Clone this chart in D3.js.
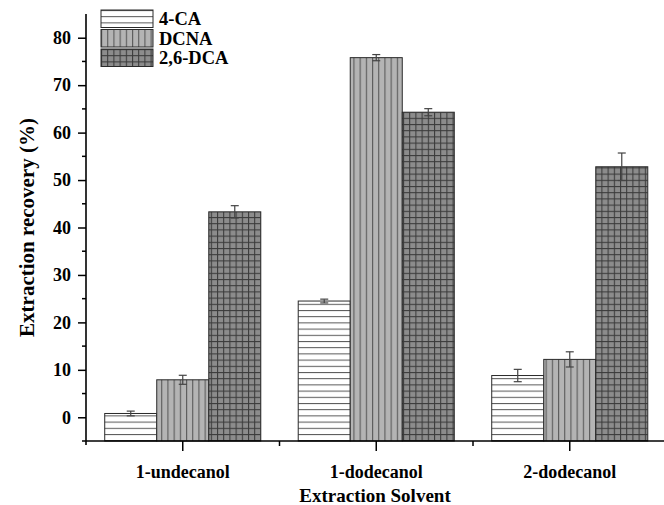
<!DOCTYPE html>
<html>
<head>
<meta charset="utf-8">
<script src="https://cdn.jsdelivr.net/npm/d3@7/dist/d3.min.js"></script>
<style>
  html, body { margin: 0; padding: 0; background: #fff; }
  svg { display: block; }
  text { font-family: "Liberation Serif", "Times New Roman", serif; font-weight: bold; fill: #000; }
</style>
</head>
<body>
<svg id="chart" width="664" height="505"></svg>
<script>
// Extraction recovery (%) per solvent and analyte
const solvents = ["1-undecanol", "1-dodecanol", "2-dodecanol"];
const analytes = ["4-CA", "DCNA", "2,6-DCA"];
const recovery4CA   = [0.8, 24.5, 8.8];
const recoveryDCNA  = [7.9, 75.8, 12.2];
const recoveryDCA   = [43.3, 64.3, 52.8];
const error4CA      = [0.5, 0.4, 1.3];
const errorDCNA     = [0.95, 0.65, 1.6];
const errorDCA      = [1.3, 0.75, 2.9];
const yTicks = [0, 10, 20, 30, 40, 50, 60, 70, 80];

const values = [recovery4CA, recoveryDCNA, recoveryDCA];
const errors = [error4CA, errorDCNA, errorDCA];

const svg = d3.select("#chart");
const plotLeft = 86, plotBottom = 441, plotTop = 14;
const groupW = 193.5;

const y = d3.scaleLinear().domain([-5, 85]).range([plotBottom, plotTop]);
const x = d3.scaleBand().domain(solvents).range([plotLeft, plotLeft + groupW * solvents.length]).padding(0);
const xs = d3.scaleBand().domain(analytes).range([0, x.bandwidth()]).paddingInner(0).paddingOuter(0.36);

// Fill patterns: hatched, striped, cross-hatched
const defs = svg.append("defs");
const hatch = defs.append("pattern").attr("id", "p-4ca").attr("patternUnits", "userSpaceOnUse")
  .attr("width", 8).attr("height", 6.2);
hatch.append("rect").attr("width", 8).attr("height", 6.2).attr("fill", "#fff");
hatch.append("line").attr("x1", 0).attr("x2", 8).attr("y1", 0.5).attr("y2", 0.5)
  .attr("stroke", "#555").attr("stroke-width", 1);

const stripe = defs.append("pattern").attr("id", "p-dcna").attr("patternUnits", "userSpaceOnUse")
  .attr("width", 6.2).attr("height", 8);
stripe.append("rect").attr("width", 6.2).attr("height", 8).attr("fill", "#b4b4b4");
stripe.append("line").attr("x1", 0.5).attr("x2", 0.5).attr("y1", 0).attr("y2", 8)
  .attr("stroke", "#5a5a5a").attr("stroke-width", 1.2);

const grid = defs.append("pattern").attr("id", "p-dca").attr("patternUnits", "userSpaceOnUse")
  .attr("width", 6.2).attr("height", 6.2);
grid.append("rect").attr("width", 6.2).attr("height", 6.2).attr("fill", "#8c8c8c");
grid.append("line").attr("x1", 0.5).attr("x2", 0.5).attr("y1", 0).attr("y2", 6.2)
  .attr("stroke", "#3a3a3a").attr("stroke-width", 1.1);
grid.append("line").attr("x1", 0).attr("x2", 6.2).attr("y1", 0.5).attr("y2", 0.5)
  .attr("stroke", "#3a3a3a").attr("stroke-width", 1.1);

const fills = { "4-CA": "url(#p-4ca)", "DCNA": "url(#p-dcna)", "2,6-DCA": "url(#p-dca)" };

// Bars
const rows = [];
solvents.forEach((s, i) => analytes.forEach((a, j) => rows.push({ s, a, v: values[j][i], e: errors[j][i] })));

svg.append("g").selectAll("rect").data(rows).join("rect")
  .attr("x", d => x(d.s) + xs(d.a))
  .attr("y", d => y(d.v))
  .attr("width", xs.bandwidth())
  .attr("height", d => y(-5) - y(d.v))
  .attr("fill", d => fills[d.a])
  .attr("stroke", "#2a2a2a").attr("stroke-width", 1);

// Error bars
const eg = svg.append("g").attr("stroke", "#444").attr("stroke-width", 1.2);
rows.forEach(d => {
  const cx = x(d.s) + xs(d.a) + xs.bandwidth() / 2;
  eg.append("line").attr("x1", cx).attr("x2", cx).attr("y1", y(d.v + d.e)).attr("y2", y(d.v - d.e));
  eg.append("line").attr("x1", cx - 4).attr("x2", cx + 4).attr("y1", y(d.v + d.e)).attr("y2", y(d.v + d.e));
  eg.append("line").attr("x1", cx - 4).attr("x2", cx + 4).attr("y1", y(d.v - d.e)).attr("y2", y(d.v - d.e));
});

// Y axis
const yAxis = svg.append("g").attr("transform", `translate(${plotLeft},0)`)
  .call(d3.axisLeft(y).tickValues(yTicks).tickSize(8).tickPadding(7).tickSizeOuter(0));
yAxis.select(".domain").remove();
yAxis.selectAll(".tick line").attr("stroke", "#000").attr("stroke-width", 1.5);
yAxis.selectAll(".tick text").attr("font-size", 18).style("font-family", "Liberation Serif").style("font-weight", "bold");
svg.append("g").selectAll("line").data(d3.range(-5, 85, 10)).join("line")
  .attr("x1", plotLeft - 4).attr("x2", plotLeft).attr("y1", d => y(d)).attr("y2", d => y(d))
  .attr("stroke", "#000").attr("stroke-width", 1.5);
svg.append("line").attr("x1", plotLeft).attr("x2", plotLeft).attr("y1", plotTop).attr("y2", plotBottom + 4)
  .attr("stroke", "#000").attr("stroke-width", 1.6);

// X axis
const xAxis = svg.append("g").attr("transform", `translate(0,${plotBottom})`)
  .call(d3.axisBottom(x).tickSize(10).tickPadding(14).tickSizeOuter(0));
xAxis.select(".domain").remove();
xAxis.selectAll(".tick line").attr("stroke", "#000").attr("stroke-width", 1.5);
xAxis.selectAll(".tick text").attr("font-size", 18).style("font-family", "Liberation Serif").style("font-weight", "bold");
svg.append("g").selectAll("line").data(solvents.slice(1)).join("line")
  .attr("x1", d => x(d)).attr("x2", d => x(d)).attr("y1", plotBottom).attr("y2", plotBottom + 5)
  .attr("stroke", "#000").attr("stroke-width", 1.5);
svg.append("line").attr("x1", plotLeft).attr("x2", 664).attr("y1", plotBottom).attr("y2", plotBottom)
  .attr("stroke", "#000").attr("stroke-width", 1.6);

// Axis titles
svg.append("text").attr("transform", `translate(34,${(plotTop + plotBottom) / 2}) rotate(-90)`)
  .attr("text-anchor", "middle").attr("font-size", 21).text("Extraction recovery (%)");
svg.append("text").attr("x", (plotLeft + 664) / 2).attr("y", 502)
  .attr("text-anchor", "middle").attr("font-size", 19).text("Extraction Solvent");

// Legend
const lg = svg.append("g").attr("transform", "translate(101,10)");
analytes.forEach((a, i) => {
  const r = lg.append("g").attr("transform", `translate(0,${i * 19.5})`);
  r.append("rect").attr("width", 52).attr("height", 17.5).attr("fill", fills[a])
    .attr("stroke", "#2a2a2a").attr("stroke-width", 1);
  r.append("text").attr("x", 58).attr("y", 15).attr("font-size", 18.5).text(a);
});
</script>
</body>
</html>
